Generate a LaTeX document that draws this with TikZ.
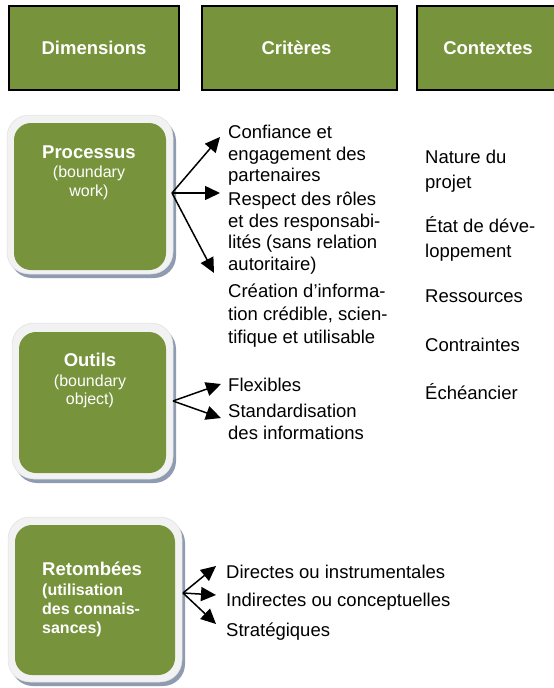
\documentclass[tikz,border=0pt]{standalone}
\usepackage{fontspec}
\setmainfont{Liberation Sans}
\usetikzlibrary{arrows.meta}
\definecolor{olivegreen}{HTML}{77933C}
\definecolor{framegray}{HTML}{F2F2F2}
\definecolor{shadowblue}{HTML}{8E9BB0}
\begin{document}
\begin{tikzpicture}[x=1pt,y=-1pt,
  hdr/.style={draw=black,line width=1.6pt,fill=olivegreen,text=white,
    font=\fontsize{18.5}{21}\selectfont\bfseries,inner sep=0pt,minimum height=84pt},
  shadowbox/.style={fill=shadowblue,rounded corners=22pt},
  framebox/.style={fill=framegray,draw=black!12,line width=0.5pt,rounded corners=22pt},
  greenbox/.style={fill=olivegreen,rounded corners=17pt},
  ttl/.style={text=white,font=\fontsize{18.5}{21}\selectfont\bfseries,inner sep=0pt,anchor=base},
  sub/.style={text=white,font=\fontsize{16}{19}\selectfont,inner sep=0pt,anchor=base},
  subb/.style={text=white,font=\fontsize{16}{19}\selectfont\bfseries,inner sep=0pt,anchor=base west},
  txt/.style={font=\fontsize{18.5}{21}\selectfont,inner sep=0pt,anchor=base west},
  arr/.style={line width=1.5pt,-{Triangle[length=15pt,width=14pt]}}
]
\clip (0,0) rectangle (554,688);
\fill[white] (0,0) rectangle (554,688);

% headers
\node[hdr,minimum width=170pt] (hdim) at (94,48) {Dimensions};
\node[hdr,minimum width=195pt] (hcrit) at (299.5,48) {\hspace*{-6pt}Critères};
\node[hdr,minimum width=142pt] (hctx) at (488,48) {Contextes};

% Processus box
\fill[shadowbox] (10,119) rectangle (176,278);
\filldraw[framebox] (7,115) rectangle (173,274);
\fill[greenbox] (14,123) rectangle (166,270);
\node[ttl] (proc) at (89,158) {Processus};
\node[sub] (proc2) at (89,177) {(boundary};
\node[sub] (proc3) at (89,196) {work)};

% Outils box
\fill[shadowbox] (15,327) rectangle (176,483);
\filldraw[framebox] (12,323) rectangle (173,479);
\fill[greenbox] (19,332) rectangle (166,473);
\node[ttl] (outl) at (90,366) {Outils};
\node[sub] (outl2) at (90,386) {(boundary};
\node[sub] (outl3) at (90,404) {object)};

% Retombees box
\fill[shadowbox] (11,521) rectangle (185,686);
\filldraw[framebox] (8,517) rectangle (182,682);
\fill[greenbox] (15,525) rectangle (175,675);
\node[ttl,anchor=base west] (ret) at (42,575) {Retombées};
\node[subb] (ret2) at (42,595) {(utilisation};
\node[subb] (ret3) at (42,614) {des connais-};
\node[subb] (ret4) at (42,633) {sances)};

% criteria for Processus
\node[txt] (c1a) at (228,138) {Confiance et};
\node[txt] (c1b) at (228,160) {engagement des};
\node[txt] (c1c) at (228,181) {partenaires};
\node[txt] (c2a) at (228,205) {Respect des rôles};
\node[txt] (c2b) at (228,227) {et des responsabi-};
\node[txt] (c2c) at (228,248) {lités (sans relation};
\node[txt] (c2d) at (228,270) {autoritaire)};
\node[txt] (c3a) at (228,297) {Création d’informa-};
\node[txt] (c3b) at (228,320) {tion crédible, scien-};
\node[txt] (c3c) at (228,343) {tifique et utilisable};

% criteria for Outils
\node[txt] (o1) at (228,391) {Flexibles};
\node[txt] (o2a) at (228,417) {Standardisation};
\node[txt] (o2b) at (228,439) {des informations};

% criteria for Retombees
\node[txt] (r1) at (226,578) {Directes ou instrumentales};
\node[txt] (r2) at (226,606) {Indirectes ou conceptuelles};
\node[txt] (r3) at (226,636) {Stratégiques};

% contexts
\node[txt] (x1a) at (425,163) {Nature du};
\node[txt] (x1b) at (425,188) {projet};
\node[txt] (x2a) at (425,232) {État de déve-};
\node[txt] (x2b) at (425,257) {loppement};
\node[txt] (x3) at (425,302) {Ressources};
\node[txt] (x4) at (425,351) {Contraintes};
\node[txt] (x5) at (425,399) {Échéancier};

% arrow coordinates
\coordinate (ps) at (172,193);
\coordinate (pe1) at (220,137);
\coordinate (pe2) at (220,193);
\coordinate (pe3) at (214,273);
\coordinate (os) at (173,401);
\coordinate (oe1) at (221,384);
\coordinate (oe2) at (221,418);
\coordinate (rs) at (183,593);
\coordinate (re1) at (216,566);
\coordinate (re2) at (216,595);
\coordinate (re3) at (216,624);

\draw[arr] (ps) -- (pe1);
\draw[arr] (ps) -- (pe2);
\draw[arr] (ps) -- (pe3);
\draw[arr] (os) -- (oe1);
\draw[arr] (os) -- (oe2);
\draw[arr] (rs) -- (re1);
\draw[arr] (rs) -- (re2);
\draw[arr] (rs) -- (re3);
\end{tikzpicture}
\end{document}
